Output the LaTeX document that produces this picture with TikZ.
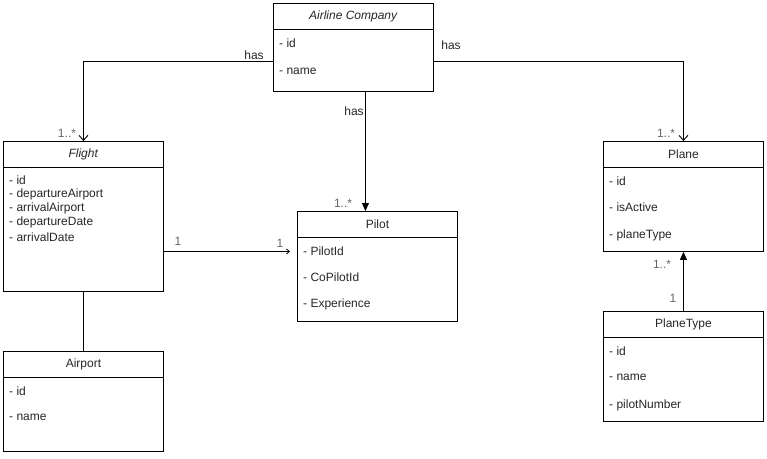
\documentclass[tikz,border=0pt]{standalone}
\usepackage{fontspec}
\setmainfont{Liberation Sans}
\usetikzlibrary{arrows.meta}
\begin{document}
\begin{tikzpicture}[x=1pt,y=-1pt,
  box/.style={draw, line width=0.9pt, minimum width=160pt, inner sep=0pt, anchor=north west},
  hline/.style={line width=0.9pt},
  title/.style={font=\fontsize{12}{14}\selectfont, text=black!85, inner sep=0pt},
  attr/.style={anchor=west, font=\fontsize{12}{14}\selectfont, text=black!85, inner sep=0pt},
  lbl/.style={font=\fontsize{12}{14}\selectfont, text=black!85, inner sep=0pt},
  mult/.style={font=\fontsize{12}{14}\selectfont, text=black!60, inner sep=0pt},
  conn/.style={line width=0.9pt},
  openarr/.style={conn, -{Straight Barb[length=5pt,width=9pt,line width=0.9pt]}},
  smallarr/.style={conn, -{Straight Barb[length=3pt,width=5pt,line width=0.8pt]}, shorten >=7pt},
  fillarr/.style={conn, -{Triangle[length=8pt,width=7pt]}}
]
\useasboundingbox (0,0) rectangle (767,458);

% Airline Company
\node[box, minimum height=88pt] (airline) at (273,3) {};
\draw[hline] ([yshift=-26pt]airline.north west) -- ([yshift=-26pt]airline.north east);
\node[title] (airlineT) at ([yshift=-13pt]airline.north) {\textit{Airline Company}};
\node[attr] (airline1) at (279,43) {- id};
\node[attr] (airline2) at (279,71) {- name};

% Flight
\node[box, minimum height=150pt] (flight) at (3,141) {};
\draw[hline] ([yshift=-26pt]flight.north west) -- ([yshift=-26pt]flight.north east);
\node[title] (flightT) at ([yshift=-13pt]flight.north) {\textit{Flight}};
\node[attr] (flight1) at (9,180) {- id};
\node[attr] (flight2) at (9,194) {- departureAirport};
\node[attr] (flight3) at (9,208) {- arrivalAirport};
\node[attr] (flight4) at (9,222) {- departureDate};
\node[attr] (flight5) at (9,237) {- arrivalDate};

% Airport
\node[box, minimum height=100pt] (airport) at (3,351) {};
\draw[hline] ([yshift=-26pt]airport.north west) -- ([yshift=-26pt]airport.north east);
\node[title] (airportT) at ([yshift=-13pt]airport.north) {Airport};
\node[attr] (airport1) at (9,391) {- id};
\node[attr] (airport2) at (9,417) {- name};

% Pilot
\node[box, minimum height=110pt] (pilot) at (297,211) {};
\draw[hline] ([yshift=-26pt]pilot.north west) -- ([yshift=-26pt]pilot.north east);
\node[title] (pilotT) at ([yshift=-13pt]pilot.north) {Pilot};
\node[attr] (pilot1) at (303,251) {- PilotId};
\node[attr] (pilot2) at (303,277) {- CoPilotId};
\node[attr] (pilot3) at (303,304) {- Experience};

% Plane
\node[box, minimum height=110pt] (plane) at (603,141) {};
\draw[hline] ([yshift=-26pt]plane.north west) -- ([yshift=-26pt]plane.north east);
\node[title] (planeT) at ([yshift=-13pt]plane.north) {Plane};
\node[attr] (plane1) at (609,181) {- id};
\node[attr] (plane2) at (609,207) {- isActive};
\node[attr] (plane3) at (609,235) {- planeType};

% PlaneType
\node[box, minimum height=110pt] (ptype) at (603,311) {};
\draw[hline] ([yshift=-26pt]ptype.north west) -- ([yshift=-26pt]ptype.north east);
\node[title] (ptypeT) at ([yshift=-13pt]ptype.north) {PlaneType};
\node[attr] (ptype1) at (609,351) {- id};
\node[attr] (ptype2) at (609,377) {- name};
\node[attr] (ptype3) at (609,405) {- pilotNumber};

% connectors
\draw[openarr] ([yshift=-14pt]airline.west) -| (flight.north);
\draw[openarr] ([yshift=-14pt]airline.east) -| (plane.north);
\draw[fillarr] ([xshift=12pt]airline.south) -- ([xshift=-12pt]pilot.north);
\draw[smallarr] ([yshift=-35pt]flight.east) -- ([yshift=-35pt]flight.east -| pilot.west);
\draw[conn] (flight.south) -- (airport.north);
\draw[fillarr] (ptype.north) -- (plane.south);

% labels
\node[lbl, fill=white, inner sep=1pt] (hasL) at (254,55) {has};
\node[lbl] (hasR) at (451,45) {has};
\node[lbl] (hasM) at (354,111) {has};
\node[mult] (mFlight) at (67,133) {1..*};
\node[mult] (mPlane) at (666,133) {1..*};
\node[mult] (mPilot) at (343,203) {1..*};
\node[mult] (mPlaneB) at (662,264) {1..*};
\node[mult] (oneF) at (178,241) {1};
\node[mult] (oneP) at (280,243) {1};
\node[mult] (oneT) at (673,298) {1};
\end{tikzpicture}
\end{document}
